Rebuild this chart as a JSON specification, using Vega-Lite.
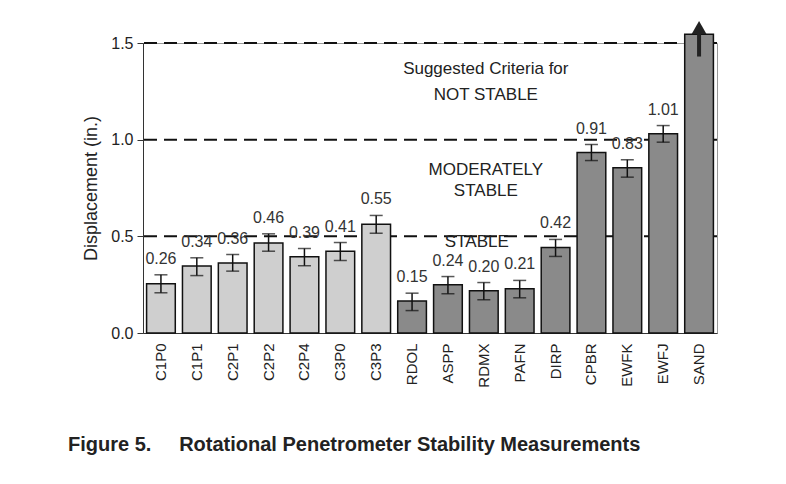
{
  "$schema": "https://vega.github.io/schema/vega-lite/v6.json",
  "width": 574,
  "height": 290,
  "autosize": "none",
  "padding": {"left": 143, "top": 43, "right": 69, "bottom": 151},
  "background": "white",
  "config": {
    "font": "Liberation Sans",
    "view": {"stroke": "#999", "strokeWidth": 1}
  },
  "title": {
    "text": "Figure 5.\u00a0\u00a0\u00a0\u00a0\u00a0Rotational Penetrometer Stability Measurements",
    "orient": "bottom",
    "anchor": "start",
    "frame": "group",
    "dx": -75,
    "offset": 48,
    "fontSize": 20,
    "fontWeight": "bold",
    "color": "#222"
  },
  "datasets": {
    "bars": [
      {"cat": "C1P0", "value": 0.255, "label": "0.26", "lo": 0.208, "hi": 0.301, "kind": "hatched"},
      {"cat": "C1P1", "value": 0.346, "label": "0.34", "lo": 0.297, "hi": 0.389, "kind": "hatched"},
      {"cat": "C2P1", "value": 0.362, "label": "0.36", "lo": 0.32, "hi": 0.406, "kind": "hatched"},
      {"cat": "C2P2", "value": 0.466, "label": "0.46", "lo": 0.423, "hi": 0.513, "kind": "hatched"},
      {"cat": "C2P4", "value": 0.394, "label": "0.39", "lo": 0.348, "hi": 0.437, "kind": "hatched"},
      {"cat": "C3P0", "value": 0.423, "label": "0.41", "lo": 0.375, "hi": 0.468, "kind": "hatched"},
      {"cat": "C3P3", "value": 0.563, "label": "0.55", "lo": 0.516, "hi": 0.608, "kind": "hatched"},
      {"cat": "RDOL", "value": 0.165, "label": "0.15", "lo": 0.116, "hi": 0.206, "kind": "checkered"},
      {"cat": "ASPP", "value": 0.249, "label": "0.24", "lo": 0.203, "hi": 0.292, "kind": "checkered"},
      {"cat": "RDMX", "value": 0.218, "label": "0.20", "lo": 0.172, "hi": 0.261, "kind": "checkered"},
      {"cat": "PAFN", "value": 0.229, "label": "0.21", "lo": 0.182, "hi": 0.272, "kind": "checkered"},
      {"cat": "DIRP", "value": 0.442, "label": "0.42", "lo": 0.396, "hi": 0.484, "kind": "checkered"},
      {"cat": "CPBR", "value": 0.933, "label": "0.91", "lo": 0.892, "hi": 0.975, "kind": "checkered"},
      {"cat": "EWFK", "value": 0.855, "label": "0.83", "lo": 0.806, "hi": 0.896, "kind": "checkered"},
      {"cat": "EWFJ", "value": 1.03, "label": "1.01", "lo": 0.987, "hi": 1.073, "kind": "checkered"},
      {"cat": "SAND", "value": 1.545, "label": "", "lo": null, "hi": null, "kind": "checkered"}
    ],
    "criteria": [{"y": 0.5}, {"y": 1.0}, {"y": 1.5}],
    "notes": [
      {"cat": "RDMX", "y": 1.368, "text": "Suggested Criteria for"},
      {"cat": "RDMX", "y": 1.229, "text": "NOT STABLE"},
      {"cat": "RDMX", "y": 0.841, "text": "MODERATELY"},
      {"cat": "RDMX", "y": 0.737, "text": "STABLE"}
    ],
    "notes2": [
      {"cat": "RDMX", "y": 0.473, "text": "STABLE"}
    ],
    "arrow": [{"cat": "SAND", "tip": 1.58, "from": 1.43, "to": 1.55}]
  },
  "encoding": {
    "x": {
      "field": "cat",
      "type": "nominal",
      "sort": null,
      "scale": {
        "domain": ["C1P0","C1P1","C2P1","C2P2","C2P4","C3P0","C3P3","RDOL","ASPP","RDMX","PAFN","DIRP","CPBR","EWFK","EWFJ","SAND"],
        "paddingInner": 0.2,
        "paddingOuter": 0.1
      },
      "axis": {
        "title": null,
        "labelAngle": -90,
        "labelFontSize": 15,
        "labelColor": "#222",
        "labelPadding": 10,
        "ticks": false,
        "domainColor": "#333",
        "domainWidth": 1
      }
    }
  },
  "layer": [
    {
      "data": {"name": "criteria"},
      "mark": {"type": "rule", "strokeDash": [13, 7], "strokeWidth": 2, "color": "#111"},
      "encoding": {
        "x": null,
        "y": {"field": "y", "type": "quantitative"}
      }
    },
    {
      "data": {"name": "bars"},
      "mark": {"type": "bar", "stroke": "#111", "strokeWidth": 1.5},
      "encoding": {
        "y": {
          "field": "value",
          "type": "quantitative",
          "scale": {"domain": [0, 1.5], "nice": false},
          "axis": {
            "title": "Displacement (in.)",
            "titleFontSize": 18,
            "titleFontWeight": "normal",
            "titleColor": "#222",
            "titlePadding": 10,
            "values": [0, 0.5, 1.0, 1.5],
            "format": ".1f",
            "labelFontSize": 16,
            "labelColor": "#222",
            "labelPadding": 4,
            "tickSize": 6,
            "tickColor": "#333",
            "domainColor": "#333",
            "grid": false
          }
        },
        "fill": {
          "field": "kind",
          "type": "nominal",
          "scale": {"domain": ["hatched", "checkered"], "range": ["#cfcfcf", "#8a8a8a"]},
          "legend": null
        }
      }
    },
    {
      "data": {"name": "bars"},
      "transform": [{"filter": "datum.hi != null"}],
      "mark": {"type": "rule", "color": "#111", "strokeWidth": 1.5},
      "encoding": {
        "y": {"field": "lo", "type": "quantitative"},
        "y2": {"field": "hi"}
      }
    },
    {
      "data": {"name": "bars"},
      "transform": [{"filter": "datum.hi != null"}],
      "mark": {"type": "tick", "color": "#111", "thickness": 1.5, "size": 13, "orient": "horizontal"},
      "encoding": {
        "y": {"field": "hi", "type": "quantitative"}
      }
    },
    {
      "data": {"name": "bars"},
      "transform": [{"filter": "datum.hi != null"}],
      "mark": {"type": "tick", "color": "#111", "thickness": 1.5, "size": 13, "orient": "horizontal"},
      "encoding": {
        "y": {"field": "lo", "type": "quantitative"}
      }
    },
    {
      "data": {"name": "bars"},
      "transform": [{"filter": "datum.hi != null"}],
      "mark": {"type": "text", "fontSize": 16, "color": "#333", "baseline": "alphabetic", "dy": -11},
      "encoding": {
        "y": {"field": "hi", "type": "quantitative"},
        "text": {"field": "label"}
      }
    },
    {
      "data": {"name": "notes"},
      "mark": {"type": "text", "fontSize": 17, "color": "#222", "baseline": "middle", "dx": 2},
      "encoding": {
        "y": {"field": "y", "type": "quantitative"},
        "text": {"field": "text"}
      }
    },
    {
      "data": {"name": "notes2"},
      "mark": {"type": "text", "fontSize": 17, "color": "#222", "baseline": "middle", "dx": -7},
      "encoding": {
        "y": {"field": "y", "type": "quantitative"},
        "text": {"field": "text"}
      }
    },
    {
      "data": {"name": "arrow"},
      "mark": {"type": "rule", "color": "#222", "strokeWidth": 4},
      "encoding": {
        "y": {"field": "from", "type": "quantitative"},
        "y2": {"field": "to"}
      }
    },
    {
      "data": {"name": "arrow"},
      "mark": {"type": "point", "shape": "triangle-up", "filled": true, "color": "#222", "size": 220, "opacity": 1},
      "encoding": {
        "y": {"field": "tip", "type": "quantitative"}
      }
    }
  ]
}
